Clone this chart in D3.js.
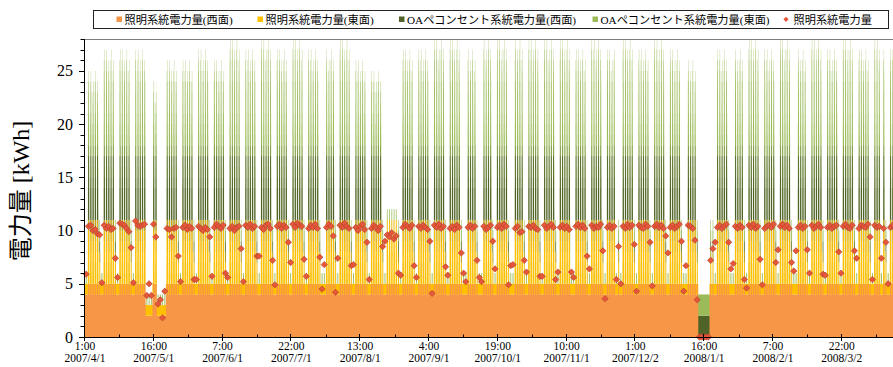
<!DOCTYPE html>
<html><head><meta charset="utf-8">
<script src="https://cdn.jsdelivr.net/npm/d3@7"></script>
<style>html,body{margin:0;padding:0;background:#fff;} svg{display:block;}</style>
</head><body>
<svg id="chart" width="893" height="367"></svg>
<script>
// ---------------- DATA ----------------
const seriesNames = ["照明系統電力量(西面)", "照明系統電力量(東面)", "OAペコンセント系統電力量(西面)", "OAペコンセント系統電力量(東面)"];
const lineName = "照明系統電力量";
const seriesColors = ["#F79646", "#FFC000", "#4F6228", "#9BBB59"];
const startDate = [2007, 4, 1];           // first hour = 2007/4/1 1:00
const hoursTotal = 8784;                   // 2007/4/1 1:00 .. 2008/4/1 0:00

// hourly profiles (hour ending 1:00 .. 24:00), kWh
const lightWestWeekday = [4,4,4,4,4,4,4,5,5,5,5,5,5,5,5,5,5,5,5,5,5,5,5,4];
const lightEastWeekday = [1,1,1,1,1,1,2,4,5,6,6,6,5,6,6,6,6,6,6,5,5,4,3,1];
const oaWestWeekday    = [0,0,0,0,0,0,0,2,4,6,6,6,5,6,7,7,7,6,6,5,4,3,1,0];
const oaEastWeekday    = [0,0,0,0,0,0,1,3,6,8,9,9,8,9,9,9,9,8,7,6,5,4,2,1];
const lightWestSat = [4,4,4,4,4,4,4,4,5,5,5,5,5,5,5,5,5,5,4,4,4,4,4,4];
const lightEastSat = [1,1,1,1,1,1,1,1,2,3,3,3,2,3,3,3,2,2,1,1,1,1,1,1];
const oaWestSat    = [0,0,0,0,0,0,0,0,1,1,1,1,1,1,1,1,1,1,1,0,0,0,0,0];
const oaEastSat    = [0,0,0,0,0,0,0,0,2,2,2,2,2,2,2,2,2,2,2,0,0,0,0,0];
const lightWestSun = [4,4,4,4,4,4,4,4,4,4,4,4,4,4,4,4,4,4,4,4,4,4,4,4];
const lightEastSun = [1,1,1,1,1,1,1,1,1,1,1,1,1,1,1,1,1,1,1,1,1,1,1,1];
const oaWestSun    = [0,0,0,0,0,0,0,0,0,0,0,0,0,0,0,0,0,0,0,0,0,0,0,0];
const oaEastSun    = [0,0,0,0,0,0,0,0,1,1,1,1,1,1,1,1,1,1,0,0,0,0,0,0];
const lightWestLow = [2,2,2,2,2,2,2,2,2,2,2,2,2,2,2,2,2,2,2,2,2,2,2,2];
const lightEastLow = [1,1,1,1,1,1,1,1,1,1,1,1,1,1,1,1,1,1,1,1,1,1,1,1];
const lightOff     = [0,0,0,0,0,0,0,0,0,0,0,0,0,0,0,0,0,0,0,0,0,0,0,0];
const oaWestOff    = [2,2,2,2,2,2,2,2,2,2,2,2,2,2,2,2,2,2,2,2,2,2,2,2];
const oaEastOff    = [2,2,2,2,2,2,2,2,2,2,2,2,2,2,2,2,2,2,2,2,2,2,2,2];

// weekly peak of total (kWh), weeks Sun..Sat starting 2007/4/1
const weekPeak = [25,27,27,27,24,26,26,27,26,28,27,28,27,28,27,27,28,26,25,26,27,27,28,28,27,28,28,28,28,28,28,27,28,27,28,27,28,27,26,26,27,27,28,27,28,27,28,27,28,27,28,27,27];
const dowAdjust = [0,0,0,-1,0,-1,0];

const nationalHolidays = ["2007/4/30","2007/5/3","2007/5/4","2007/5/5","2007/7/16","2007/9/17","2007/9/24","2007/10/8","2007/11/3","2007/11/23","2007/12/24","2008/1/1","2008/1/14","2008/2/11","2008/3/20"];
const goldenWeekLow = ["2007/4/28","2007/4/29","2007/4/30","2007/5/3","2007/5/4","2007/5/5","2007/5/6"];
const obonDays = ["2007/8/13","2007/8/14","2007/8/15","2007/8/16","2007/8/17"];
const newYearOff = ["2007/12/30","2007/12/31","2008/1/1","2008/1/2","2008/1/3"];
const companyOff = ["2008/1/4"];

// daily 照明系統電力量 markers (kWh), weeks Sun..Sat
const lightTotalDaily = [
 5.9,10.4,10.5,10.0,10.1,9.7,9.6,
 5.1,10.5,10.2,10.4,10.1,10.2,7.4,
 5.6,10.7,10.6,10.5,10.2,9.9,8.4,
 5.1,10.9,10.5,10.4,10.5,10.6,3.9,
 5.0,3.9,10.6,9.4,3.1,3.5,1.8,
 4.3,10.2,10.1,9.4,10.2,10.3,7.6,
 5.2,10.3,10.5,10.1,10.4,10.2,5.4,
 5.4,10.4,10.2,10.0,10.3,10.1,9.4,
 5.7,10.3,10.6,10.4,10.2,10.5,6.0,
 5.6,10.2,10.4,10.0,10.3,10.4,8.3,
 5.2,10.5,10.3,10.6,10.2,10.4,7.6,
 7.6,10.3,10.1,10.5,10.6,10.2,7.2,
 4.9,10.4,10.6,10.2,10.5,10.3,8.9,
 7.0,10.6,10.3,10.7,10.5,10.4,7.3,
 5.7,10.2,10.5,10.3,10.6,10.2,7.5,
 4.5,6.8,10.3,10.6,10.4,9.5,4.2,
 7.4,10.5,10.3,10.7,10.4,10.2,6.7,
 6.8,10.3,10.0,10.4,10.6,10.1,8.9,
 5.4,10.2,10.5,10.3,10.0,10.4,8.5,
 9.0,9.6,9.4,9.8,9.2,9.5,6.0,
 5.8,10.3,10.6,10.4,10.2,10.5,6.7,
 5.6,10.4,10.2,10.5,10.3,10.1,9.0,
 4.1,10.5,10.3,10.6,10.2,10.4,6.6,
 5.8,10.2,10.4,10.1,10.5,10.3,7.9,
 6.0,5.2,10.3,10.5,10.2,10.4,7.2,
 5.6,5.2,10.4,10.1,10.3,10.5,9.0,
 6.4,10.3,10.5,10.2,10.6,10.4,4.9,
 6.7,6.8,10.2,10.4,9.8,9.9,7.2,
 6.1,10.4,10.3,10.5,10.2,10.1,5.7,
 5.7,10.5,10.2,10.4,10.6,10.3,5.4,
 6.1,10.3,10.5,10.2,10.4,10.1,6.1,
 5.6,10.4,10.6,10.3,10.5,10.2,7.6,
 6.4,10.5,10.2,10.4,10.3,10.6,8.1,
 3.6,10.3,10.5,10.2,10.4,5.4,8.5,
 5.0,10.4,10.2,10.6,10.3,10.5,8.7,
 4.3,10.5,10.3,10.2,10.6,10.4,8.9,
 4.8,10.4,10.6,10.3,10.5,10.2,9.5,
 7.9,10.3,10.5,10.2,10.4,10.6,9.0,
 4.3,6.7,10.5,10.4,10.2,9.1,3.5,
 0,0,0,0,0,7.2,8.3,
 8.9,10.3,10.5,10.2,10.4,10.6,8.9,
 6.4,6.9,10.4,10.2,10.5,10.3,5.4,
 4.6,10.5,10.3,10.6,10.2,10.4,7.3,
 4.9,10.2,10.4,10.5,10.3,10.6,7.0,
 8.2,10.4,10.6,10.3,10.5,10.2,7.0,
 6.2,8.1,10.3,10.5,10.2,10.4,8.2,
 6.0,10.5,10.2,10.4,10.6,10.3,5.9,
 5.8,10.3,10.5,10.2,10.4,10.5,8.0,
 6.0,10.4,10.6,10.3,10.2,10.5,8.1,
 7.4,10.2,10.5,10.4,10.3,10.6,9.4,
 5.4,10.5,10.3,10.4,7.4,10.2,8.9,
 5.0,10.3,10.5,10.2,10.4,10.6,8.4,
 5.5,10.4
];
const markerHour = 12;

const yTicks = [0,5,10,15,20,25];
const tickEvery = 735;
const tickTimes = ["1:00","16:00","7:00","22:00","13:00","4:00","19:00","10:00","1:00","16:00","7:00","22:00"];
const tickDates = ["2007/4/1","2007/5/1","2007/6/1","2007/7/1","2007/8/1","2007/9/1","2007/10/1","2007/11/1","2007/12/2","2008/1/1","2008/2/1","2008/3/2"];

(function () {
// ---------------- BUILD TABLE ----------------
const fmt = d => `${d.getFullYear()}/${d.getMonth()+1}/${d.getDate()}`;
const nDays = hoursTotal / 24;
const dayType = d3.range(nDays).map(d => {
  const dt = new Date(startDate[0], startDate[1]-1, startDate[2] + d);
  const k = fmt(dt), dow = dt.getDay();
  if (newYearOff.includes(k)) return "N";
  if (goldenWeekLow.includes(k)) return "G";
  if (obonDays.includes(k)) return "O";
  if (nationalHolidays.includes(k) || dow === 0) return "U";
  if (dow === 6 || companyOff.includes(k)) return "S";
  return "W";
});
const profiles = {
  W: [lightWestWeekday, lightEastWeekday, oaWestWeekday, oaEastWeekday],
  S: [lightWestSat, lightEastSat, oaWestSat, oaEastSat],
  U: [lightWestSun, lightEastSun, oaWestSun, oaEastSun],
  G: [lightWestLow, lightEastLow, oaWestSun, oaEastSun],
  O: [lightWestWeekday, lightEastWeekday, oaWestSun, oaEastSun],
  N: [lightOff, lightOff, oaWestOff, oaEastOff]
};
const table = d3.range(hoursTotal).map(i => {
  const day = Math.floor(i / 24), h = i % 24, t = dayType[day];
  const vals = profiles[t].map(a => a[h]);
  if (t === "W" && oaEastWeekday[h] >= 8) {
    vals[3] += (weekPeak[Math.floor(day / 7)] - 27) + dowAdjust[day % 7];
  }
  return vals;
});

// ---------------- DRAW ----------------
const plotLeft = 85, plotTop = 39, plotH = 298, visW = 893 - plotLeft;
const stepPx = 0.0936;
const svg = d3.select("#chart");
const x = d3.scaleBand().domain(d3.range(hoursTotal)).range([0, hoursTotal * stepPx]).padding(0);
const y = d3.scaleLinear().domain([0, 28]).range([plotH, 0]);

// high-resolution bar rendering (1 px per hour), then area-averaged to screen
const xHi = d3.scaleBand().domain(d3.range(hoursTotal)).range([0, hoursTotal]).padding(0);
const hi = document.createElement("canvas");
hi.width = hoursTotal; hi.height = plotH;
const hctx = hi.getContext("2d");
hctx.fillStyle = "#fff"; hctx.fillRect(0, 0, hi.width, hi.height);
table.forEach((vals, i) => {
  let cum = 0;
  vals.forEach((v, s) => {
    if (v > 0) {
      hctx.fillStyle = seriesColors[s];
      const y1 = y(cum + v), y0 = y(cum);
      hctx.fillRect(xHi(i), y1, xHi.bandwidth(), y0 - y1);
    }
    cum += v;
  });
});
const src = hctx.getImageData(0, 0, hi.width, plotH).data;
const acc = new Float32Array(visW * plotH * 3);
const wsum = new Float32Array(visW);
const bw = x.bandwidth();
for (let i = 0; i < hoursTotal; i++) {
  const a = x(i), b = a + bw;
  const j0 = Math.floor(a), j1 = Math.floor(b - 1e-9);
  const parts = j0 === j1 ? [[j0, bw]] : [[j0, j0 + 1 - a], [j1, b - j1]];
  const sx = Math.round(xHi(i));
  for (const [j, w] of parts) {
    if (j < 0 || j >= visW) continue;
    wsum[j] += w;
    for (let r = 0; r < plotH; r++) {
      const si = (r * hi.width + sx) * 4, di = (r * visW + j) * 3;
      acc[di] += w * src[si]; acc[di+1] += w * src[si+1]; acc[di+2] += w * src[si+2];
    }
  }
}
const out = document.createElement("canvas");
out.width = visW; out.height = plotH;
const octx = out.getContext("2d");
const img = octx.createImageData(visW, plotH);
for (let r = 0; r < plotH; r++) for (let j = 0; j < visW; j++) {
  const di = (r * visW + j) * 3, oi = (r * visW + j) * 4, ws = wsum[j];
  if (!ws) { img.data[oi]=255; img.data[oi+1]=255; img.data[oi+2]=255; img.data[oi+3]=255; continue; }
  img.data[oi] = acc[di] / ws; img.data[oi+1] = acc[di+1] / ws; img.data[oi+2] = acc[di+2] / ws; img.data[oi+3] = 255;
}
octx.putImageData(img, 0, 0);

const plot = svg.append("g").attr("transform", `translate(${plotLeft},${plotTop})`);
plot.append("image").attr("x", 0).attr("y", 0).attr("width", visW).attr("height", plotH)
  .attr("preserveAspectRatio", "none").attr("href", out.toDataURL());

// top frame line
plot.append("line").attr("x1", 0).attr("x2", visW).attr("y1", 0.5).attr("y2", 0.5)
  .attr("stroke", "#7f7f7f").attr("stroke-width", 1.2);

// markers
const sq = d3.symbol(d3.symbolSquare).size(20);
plot.append("g").selectAll("path").data(lightTotalDaily).join("path")
  .attr("d", sq)
  .attr("transform", (v, d) => `translate(${x(d * 24 + markerHour) + bw / 2},${y(v)}) rotate(45)`)
  .attr("fill", "#E4573A").attr("stroke", "#B5402B").attr("stroke-width", 0.6);

// y axis
const serif = "'Liberation Serif','Times New Roman',serif";
const yAxis = plot.append("g");
yAxis.append("line").attr("x1", -0.5).attr("x2", -0.5).attr("y1", 0).attr("y2", plotH).attr("stroke", "#000");
yAxis.selectAll("line.minor").data(d3.range(0, 29)).join("line").attr("class", "minor")
  .attr("x1", -4.5).attr("x2", -0.5).attr("y1", d => Math.round(y(d)) + 0.5).attr("y2", d => Math.round(y(d)) + 0.5)
  .attr("stroke", "#000");
yAxis.selectAll("line.major").data(yTicks).join("line").attr("class", "major")
  .attr("x1", -6).attr("x2", -0.5).attr("y1", d => Math.round(y(d)) + 0.5).attr("y2", d => Math.round(y(d)) + 0.5)
  .attr("stroke", "#000");
yAxis.selectAll("text").data(yTicks).join("text")
  .attr("x", -12).attr("y", d => y(d) + 5.5).attr("text-anchor", "end")
  .attr("font-family", serif).attr("font-size", 16).attr("fill", "#000").text(d => d);

// x axis
const xAxis = plot.append("g").attr("transform", `translate(0,${plotH})`);
xAxis.append("line").attr("x1", -0.5).attr("x2", visW).attr("y1", 0.5).attr("y2", 0.5).attr("stroke", "#000");
const majors = tickTimes.map((t, k) => k * tickEvery);
xAxis.selectAll("line.minor").data(majors).join("line").attr("class", "minor")
  .attr("x1", d => Math.round(x(d + tickEvery / 2 | 0)) + 0.5).attr("x2", d => Math.round(x(d + tickEvery / 2 | 0)) + 0.5)
  .attr("y1", -2.5).attr("y2", 0.5).attr("stroke", "#000");
xAxis.selectAll("line.major").data(majors).join("line").attr("class", "major")
  .attr("x1", d => Math.round(x(d)) - 0.5).attr("x2", d => Math.round(x(d)) - 0.5)
  .attr("y1", -3).attr("y2", 4).attr("stroke", "#000");
const xl = xAxis.selectAll("g.lbl").data(majors).join("g").attr("class", "lbl")
  .attr("transform", d => `translate(${x(d)},0)`);
xl.append("text").attr("y", 12.5).attr("text-anchor", "middle").attr("font-family", serif)
  .attr("font-size", 11.5).attr("fill", "#000").text((d, k) => tickTimes[k]);
xl.append("text").attr("y", 24.5).attr("text-anchor", "middle").attr("font-family", serif)
  .attr("font-size", 11.5).attr("fill", "#000").text((d, k) => tickDates[k]);

// y title
svg.append("text").attr("transform", "translate(29,191) rotate(-90)").attr("text-anchor", "middle")
  .attr("font-family", "'Liberation Serif','Noto Sans CJK JP',serif").attr("font-size", 24)
  .attr("fill", "#000").text("電力量 [kWh]");

// legend
const lg = svg.append("g");
lg.append("rect").attr("x", 93.5).attr("y", 10.5).attr("width", 795).attr("height", 18)
  .attr("fill", "#fff").attr("stroke", "#222").attr("stroke-width", 1);
const legendX = [116.5, 257.5, 399, 592.5, 786];
const legendFont = "'Liberation Serif','Noto Sans CJK JP',serif";
seriesNames.forEach((n, s) => {
  lg.append("rect").attr("x", legendX[s]).attr("y", 16.5).attr("width", 5.5).attr("height", 5.5).attr("fill", seriesColors[s]);
  lg.append("text").attr("x", legendX[s] + 8).attr("y", 23.5).attr("font-family", legendFont)
    .attr("font-size", 11.2).attr("fill", "#000").text(n);
});
lg.append("path").attr("d", d3.symbol(d3.symbolSquare).size(14))
  .attr("transform", `translate(${legendX[4]},19.3) rotate(45)`).attr("fill", "#E4573A");
lg.append("text").attr("x", legendX[4] + 7.5).attr("y", 23.5).attr("font-family", legendFont)
  .attr("font-size", 11.2).attr("fill", "#000").text(lineName);
})();
</script>
</body></html>
